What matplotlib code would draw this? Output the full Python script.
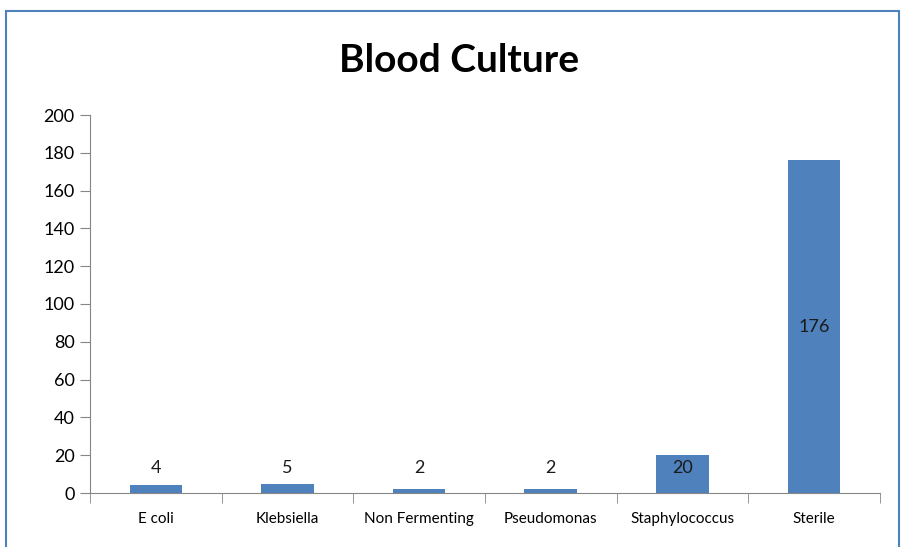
import matplotlib.pyplot as plt
from matplotlib.patches import Rectangle

organismos = ['E coli', 'Klebsiella', 'Non Fermenting', 'Pseudomonas', 'Staphylococcus', 'Sterile']
casos = [4, 5, 2, 2, 20, 176]
marcas_y = [0, 20, 40, 60, 80, 100, 120, 140, 160, 180, 200]

plt.rcParams['font.family'] = ['Lato', 'DejaVu Sans']

fig = plt.figure(figsize=(9.03, 5.47), dpi=100)
ax = fig.add_axes([90 / 903, 1 - 493 / 547, 790 / 903, 378 / 547])

# marco azul alrededor del gráfico
fig.patches.append(Rectangle((5.5 / 903, -0.05), 894 / 903, 1.05 - 10.5 / 547,
                             transform=fig.transFigure, fill=False,
                             edgecolor='#4F81BD', linewidth=1.5))

posiciones = list(range(len(organismos)))
ax.bar(posiciones, casos, width=0.4, color='#4F81BD')

for x, v in zip(posiciones, casos):
    ax.text(x, max(v / 2, 13.2), str(v), ha='center', va='center', fontsize=13, color='#1a1a1a')

ax.set_xlim(-0.5, len(organismos) - 0.5)
ax.set_ylim(0, 200)
ax.set_yticks(marcas_y)
ax.tick_params(axis='y', direction='out', length=7, color='#868686', labelsize=13, pad=4)

ax.set_xticks(posiciones)
ax.set_xticklabels(organismos, fontsize=11)
ax.tick_params(axis='x', length=0, pad=14)
ax.set_xticks([p - 0.5 for p in range(len(organismos) + 1)], minor=True)
ax.tick_params(axis='x', which='minor', direction='out', length=7, color='#868686')

for lado in ['top', 'right']:
    ax.spines[lado].set_visible(False)
for lado in ['left', 'bottom']:
    ax.spines[lado].set_color('#868686')

fig.text(459 / 903, 1 - 60 / 547, 'Blood Culture', ha='center', va='center',
         fontsize=28, fontweight='bold')

fig.savefig('out.png', dpi=100)
